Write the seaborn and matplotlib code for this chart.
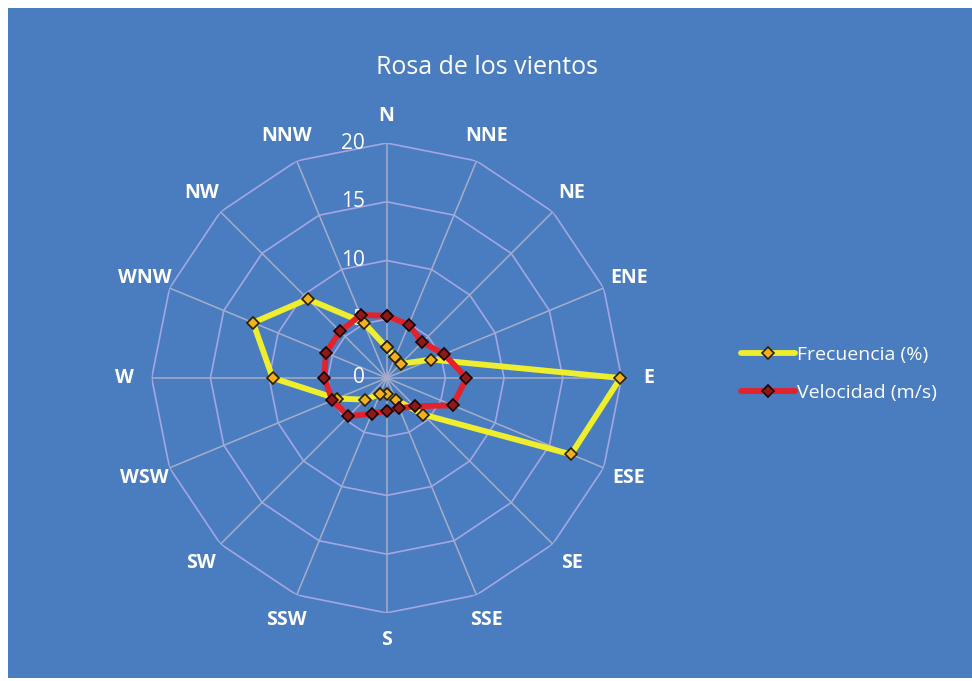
import numpy as np
import pandas as pd
import matplotlib
matplotlib.use("Agg")
import matplotlib.pyplot as plt
import matplotlib.transforms as mtransforms
from matplotlib.patches import Rectangle
import seaborn as sns

# ---------------------------
# datos
# ---------------------------
direcciones = ['N', 'NNE', 'NE', 'ENE', 'E', 'ESE', 'SE', 'SSE',
               'S', 'SSW', 'SW', 'WSW', 'W', 'WNW', 'NW', 'NNW']
frecuencia = [2.6, 1.9, 1.7, 4.1, 19.9, 17.0, 4.4, 2.0,
              1.4, 1.5, 2.6, 4.6, 9.7, 12.3, 9.5, 5.1]
velocidad = [5.3, 4.9, 4.3, 5.3, 6.8, 6.1, 3.4, 2.8,
             2.8, 3.3, 4.6, 5.0, 5.3, 5.6, 5.6, 5.8]
anillos = [0, 5, 10, 15, 20]

azul = '#4a7dbf'
color_anillo = '#a2a6e4'
color_radio = '#a6adc8'

sns.set_theme(style="white")
plt.rcParams['font.family'] = ['Open Sans', 'DejaVu Sans']

# ángulos de cada dirección y cierre del polígono
angulos = np.deg2rad(np.arange(len(direcciones)) * 360 / len(direcciones))
df = pd.DataFrame({'angulo': angulos,
                   'Frecuencia (%)': frecuencia,
                   'Velocidad (m/s)': velocidad})
df = pd.concat([df, df.iloc[[0]].assign(angulo=2 * np.pi)], ignore_index=True)

fig = plt.figure(figsize=(9.72, 6.81), dpi=100)
fig.patch.set_facecolor('white')
fig.add_artist(Rectangle((8 / 972, 3 / 681), 964 / 972, 670 / 681,
                         transform=fig.transFigure, facecolor=azul,
                         edgecolor='none', zorder=-10))

ax = fig.add_axes([0.156, 0.100, 0.4835, 0.690], projection='polar')
ax.set_facecolor('none')
ax.set_theta_zero_location('N')
ax.set_theta_direction(-1)
ax.set_ylim(0, 20)
ax.grid(False)
ax.spines['polar'].set_visible(False)
ax.set_xticks([])
ax.set_yticks([])

# rejilla poligonal tipo Excel
cierre = np.append(angulos, angulos[0])
for r in anillos[1:]:
    ax.plot(cierre, [r] * len(cierre), color=color_anillo, lw=1.2, zorder=1)
for a in angulos:
    ax.plot([a, a], [0, anillos[-1]], color=color_radio, lw=1.1, zorder=1)

# etiquetas del eje radial
desplaza = mtransforms.offset_copy(ax.transData, fig=fig, x=-22, y=0, units='dots')
for r in anillos:
    ax.text(0, r, str(r), transform=desplaza, ha='right', va='center',
            color='white', fontsize=15, zorder=2)

# etiquetas de direcciones
for a, d in zip(angulos, direcciones):
    ax.text(a, 22.3, d, ha='center', va='center', color='white',
            fontsize=14, fontweight='bold', clip_on=False)

# series
sns.lineplot(data=df, x='angulo', y='Frecuencia (%)', ax=ax, sort=False,
             color='#eeee2e', lw=4.2, marker='D', markersize=6,
             markerfacecolor='#f0b020', markeredgecolor='#2a2000',
             markeredgewidth=1.2, label='Frecuencia (%)', legend=False,
             clip_on=False, zorder=3)
sns.lineplot(data=df, x='angulo', y='Velocidad (m/s)', ax=ax, sort=False,
             color='#e3222c', lw=4.2, marker='D', markersize=6,
             markerfacecolor='#8c1a1a', markeredgecolor='#1a0000',
             markeredgewidth=1.2, label='Velocidad (m/s)', legend=False,
             clip_on=False, zorder=4)
ax.set_xlabel('')
ax.set_ylabel('')

handles, labels = ax.get_legend_handles_labels()
fig.legend(handles, labels, loc='center left', bbox_to_anchor=(0.762, 0.451),
           frameon=False, fontsize=14, handlelength=2.8, handletextpad=0.1,
           labelspacing=1.0, labelcolor='white', borderpad=0, borderaxespad=0)

fig.text(0.501, 1 - 68 / 681, 'Rosa de los vientos', ha='center', va='center',
         color='white', fontsize=18)

fig.savefig('out.png', dpi=100, facecolor=fig.get_facecolor())
